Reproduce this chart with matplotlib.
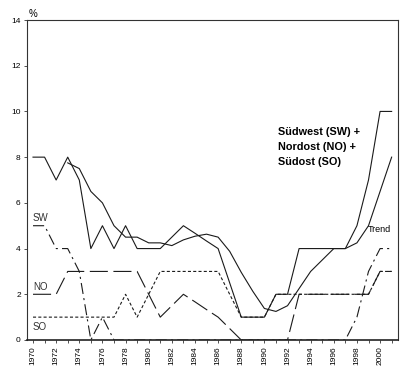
import numpy as np
import matplotlib
matplotlib.use("Agg")
import matplotlib.pyplot as plt

# Jahre 1970-2001
years = list(range(1970, 2002))

# Anteile in %
sw = [5, 5, 4, 4, 3, 0, 1, 0, 0, 0, 0, 0, 0, 0, 0, 0,
      0, 0, 0, 0, 0, 0, 0, 0, 0, 0, 0, 0, 1, 3, 4, 4]
no = [2, 2, 2, 3, 3, 3, 3, 3, 3, 3, 2, 1, 1.5, 2, 1.67, 1.33,
      1, 0.5, 0, 0, 0, 0, 0, 2, 2, 2, 2, 2, 2, 2, 3, 3]
so = [1, 1, 1, 1, 1, 1, 1, 1, 2, 1, 2, 3, 3, 3, 3, 3,
      3, 2, 1, 1, 1, 2, 2, 2, 2, 2, 2, 2, 2, 2, 3, 3]
total = [8, 8, 7, 8, 7, 4, 5, 4, 5, 4, 4, 4, 4.5, 5, 4.67, 4.33,
         4, 2.5, 1, 1, 1, 2, 2, 4, 4, 4, 4, 4, 5, 7, 10, 10]

# Trend ab 1973
trend_years = list(range(1973, 2002))
trend = [7.75, 7.5, 6.5, 6.0, 5.0, 4.5, 4.5, 4.25, 4.25, 4.13, 4.38, 4.54,
         4.63, 4.5, 3.88, 2.96, 2.13, 1.38, 1.25, 1.5, 2.25, 3.0, 3.5, 4.0,
         4.0, 4.25, 5.0, 6.5, 8.0]

plt.rcParams['font.family'] = ['Liberation Sans', 'DejaVu Sans']
plt.rcParams['lines.scale_dashes'] = False

fig = plt.figure(figsize=(4.2, 3.84), dpi=100)
ax = fig.add_axes([27 / 420, 1 - 340 / 384, 371 / 420, 320 / 384])

lc = '#1a1a1a'
lw = 0.8
ax.plot(years, so, color=lc, lw=lw, dashes=(2.2, 1.6))
ax.plot(years, no, color=lc, lw=lw, dashes=(13, 4))
ax.plot(years, sw, color=lc, lw=lw, dashes=(8, 3, 1.5, 3))
ax.plot(years, total, color=lc, lw=lw)
ax.plot(trend_years, trend, color=lc, lw=lw)

ax.set_xlim(1969.48, 2001.55)
ax.set_ylim(0, 14)

ax.set_xticks(years)
ax.set_xticklabels([str(y) if y % 2 == 0 else '' for y in years],
                   rotation=90, fontsize=6)
ax.set_yticks(np.arange(0, 15, 2))
ax.set_yticklabels([str(v) for v in range(0, 15, 2)], fontsize=6)
ax.tick_params(axis='both', length=2.5, width=0.6, pad=2, color='#333333')

for sp in ax.spines.values():
    sp.set_linewidth(0.8)
    sp.set_color('#333333')
    sp.set_zorder(5)
ax.spines['bottom'].set_linewidth(1.2)
ax.spines['bottom'].set_color('#222222')

# Beschriftungen
ax.text(1969.6, 14.05, '%', fontsize=7, ha='left', va='bottom')
ax.text(1970.0, 5.35, 'SW', fontsize=7, ha='left', va='center', color='#333333')
ax.text(1970.0, 2.32, 'NO', fontsize=7, ha='left', va='center', color='#333333')
ax.text(1970.0, 0.57, 'SO', fontsize=7, ha='left', va='center', color='#333333')
ax.text(1998.95, 4.85, 'Trend', fontsize=6.5, ha='left', va='center')
ax.text(1991.2, 9.32, 'Südwest (SW) +\nNordost (NO) +\nSüdost (SO)',
        fontsize=7.8, fontweight='bold', ha='left', va='top',
        linespacing=1.6)

fig.savefig('out.png', dpi=100)
